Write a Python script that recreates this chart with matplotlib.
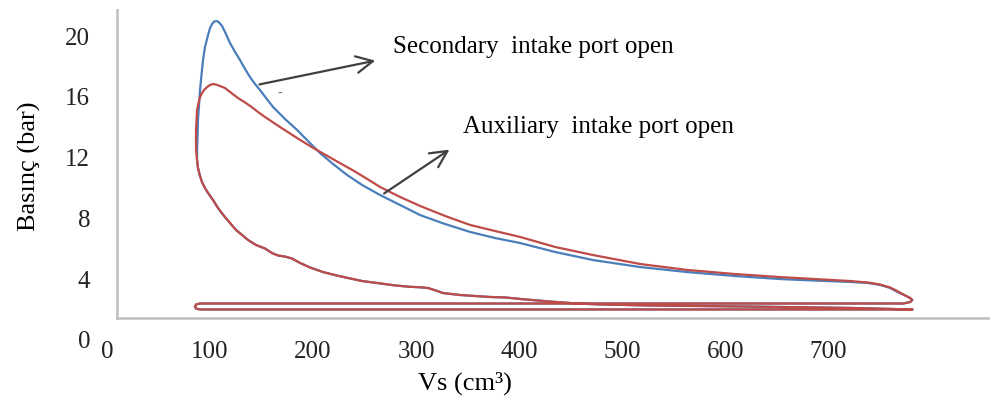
import numpy as np
import matplotlib
matplotlib.use("Agg")
import matplotlib.pyplot as plt

plt.rcParams["font.family"] = ["Liberation Serif", "DejaVu Serif"]

# Compression stroke (BDC -> TDC), shared by both runs
comp_v = [781.6, 721.4, 624.3, 527.2, 478.6, 456.3, 430.1, 401.0, 386.4, 371.8, 342.7,
          326.2, 319.4, 311.7, 303.9, 294.2, 279.6, 262.1, 247.6, 235.9, 223.3, 209.7,
          197.1, 187.4, 179.6, 172.8, 166.0, 160.2, 153.4, 144.7, 136.9, 131.1, 125.2,
          119.4, 113.6, 107.8, 102.9, 98.1, 95.1, 92.2, 90.3, 88.3, 87.4]
comp_p = [2.01, 2.11, 2.20, 2.27, 2.34, 2.40, 2.53, 2.70, 2.80, 2.83, 2.96,
          3.09, 3.25, 3.42, 3.47, 3.50, 3.59, 3.75, 3.88, 4.05, 4.24, 4.47,
          4.77, 5.07, 5.36, 5.49, 5.56, 5.72, 6.02, 6.25, 6.58, 6.91, 7.24,
          7.70, 8.16, 8.68, 9.21, 9.67, 10.00, 10.39, 10.79, 11.32, 11.84]

# Combustion + expansion, secondary intake port open (blue)
sec_v = [87.4, 87.9, 88.3, 89.3, 90.3, 91.7, 93.2, 95.1, 98.1, 100.0, 102.0, 103.9,
         105.8, 107.8, 109.7, 111.7, 115.5, 119.4, 124.3, 129.1, 134.0, 138.8, 143.7,
         148.5, 154.4, 161.2, 172.8, 184.5, 195.1, 206.8, 219.4, 233.0, 247.6, 265.0,
         284.5, 303.9, 328.2, 352.4, 376.7, 401.0, 435.0, 471.8, 517.5, 563.1, 609.7,
         653.4, 687.4, 721.4, 738.8, 750.5, 760.2, 767.0, 773.8, 779.6, 781.6, 779.6,
         772.8]
sec_p = [12.50, 13.49, 14.47, 15.46, 16.45, 17.43, 18.42, 19.28, 20.07, 20.53, 20.79, 20.95,
         20.99, 20.95, 20.82, 20.66, 20.13, 19.54, 18.95, 18.42, 17.83, 17.30, 16.84,
         16.45, 15.92, 15.33, 14.54, 13.82, 13.09, 12.30, 11.58, 10.86, 10.20, 9.54,
         8.88, 8.22, 7.63, 7.11, 6.71, 6.38, 5.79, 5.26, 4.80, 4.47, 4.21,
         4.01, 3.91, 3.82, 3.75, 3.62, 3.42, 3.16, 2.96, 2.76, 2.63, 2.50,
         2.40]

# Combustion + expansion, auxiliary intake port open (red)
aux_v = [86.4, 86.4, 86.4, 86.9, 87.4, 88.8, 90.3, 92.2, 94.2, 97.1, 100.0, 102.9,
         105.8, 109.7, 114.6, 119.4, 127.2, 134.0, 140.8, 146.6, 153.4, 168.0, 184.5,
         197.1, 209.7, 224.3, 238.8, 251.5, 265.0, 284.5, 303.9, 328.2, 352.4, 376.7,
         401.0, 435.0, 471.8, 517.5, 563.1, 609.7, 653.4, 687.4, 721.4, 738.8, 750.5,
         760.2, 767.0, 773.8, 779.6, 781.6, 779.6, 772.8]
aux_p = [12.50, 13.16, 13.82, 14.47, 15.13, 15.59, 15.99, 16.25, 16.45, 16.64, 16.78, 16.84,
         16.81, 16.71, 16.58, 16.32, 15.92, 15.63, 15.31, 15.00, 14.67, 14.01, 13.29,
         12.76, 12.27, 11.71, 11.16, 10.64, 10.07, 9.41, 8.82, 8.16, 7.57, 7.17,
         6.78, 6.12, 5.59, 5.00, 4.61, 4.34, 4.14, 4.01, 3.88, 3.78, 3.65,
         3.45, 3.22, 2.96, 2.76, 2.63, 2.50, 2.40]

# Exhaust and intake strokes (pumping loop)
pump_v = [672.8, 400.0, 90.3, 86.4, 85.4, 86.4, 90.3, 400.0, 781.6]
pump_p = [2.40, 2.40, 2.40, 2.34, 2.20, 2.07, 2.01, 2.01, 2.01]

x_ticks = [0, 100, 200, 300, 400, 500, 600, 700]
y_ticks = [0, 4, 8, 12, 16, 20]

fig = plt.figure(figsize=(9.92, 4.01), dpi=100)
ax = fig.add_axes([107 / 992, 61 / 401, 883 / 992, 331 / 401])
xmax, ymax = 857, 21.78
ax.set_xlim(0, xmax)
ax.set_ylim(0, ymax)

blue = "#4A7EBB"
red = "#BE4B48"
for v_top, p_top, c in [(sec_v, sec_p, blue), (aux_v, aux_p, red)]:
    v = np.concatenate([comp_v, v_top, pump_v])
    p = np.concatenate([comp_p, p_top, pump_p])
    ax.plot(v, p, color=c, lw=1.6, solid_joinstyle="round", solid_capstyle="round")

# axis lines sit inside the frame, labels start from zero
axis_v, axis_p = 9.7, 1.45
ax.axvline(axis_v, ymin=axis_p / ymax, ymax=1, color="#BFBFBF", lw=1.8)
ax.axhline(axis_p, xmin=axis_v / xmax, xmax=1, color="#BFBFBF", lw=1.8)
for s in ax.spines.values():
    s.set_visible(False)

ax.set_xticks(x_ticks)
ax.set_yticks(y_ticks)
ax.tick_params(length=0, labelsize=18, colors="#222222")
ax.tick_params(axis="x", pad=1)
ax.tick_params(axis="y", pad=12)

fig.text(0.469, 0.045, "Vs (cm³)", ha="center", va="center", fontsize=19)
fig.text(0.030, 0.585, "Basınç (bar)", ha="center", va="center", rotation=90, fontsize=19)

arrow = dict(arrowstyle="->", color="#404040", lw=1.6, mutation_scale=30)
ax.annotate("", xy=(263.1, 18.42), xytext=(145.3, 16.78), arrowprops=arrow)
ax.annotate("", xy=(334.6, 12.63), xytext=(266.7, 9.54), arrowprops=arrow)
ax.text(277.7, 19.28, "Secondary  intake port open", fontsize=18, va="center")
ax.text(345.6, 14.01, "Auxiliary  intake port open", fontsize=18, va="center")
ax.text(165.0, 16.2, "-", fontsize=10, color="#777777", va="center")

fig.savefig("out.png", dpi=100)
